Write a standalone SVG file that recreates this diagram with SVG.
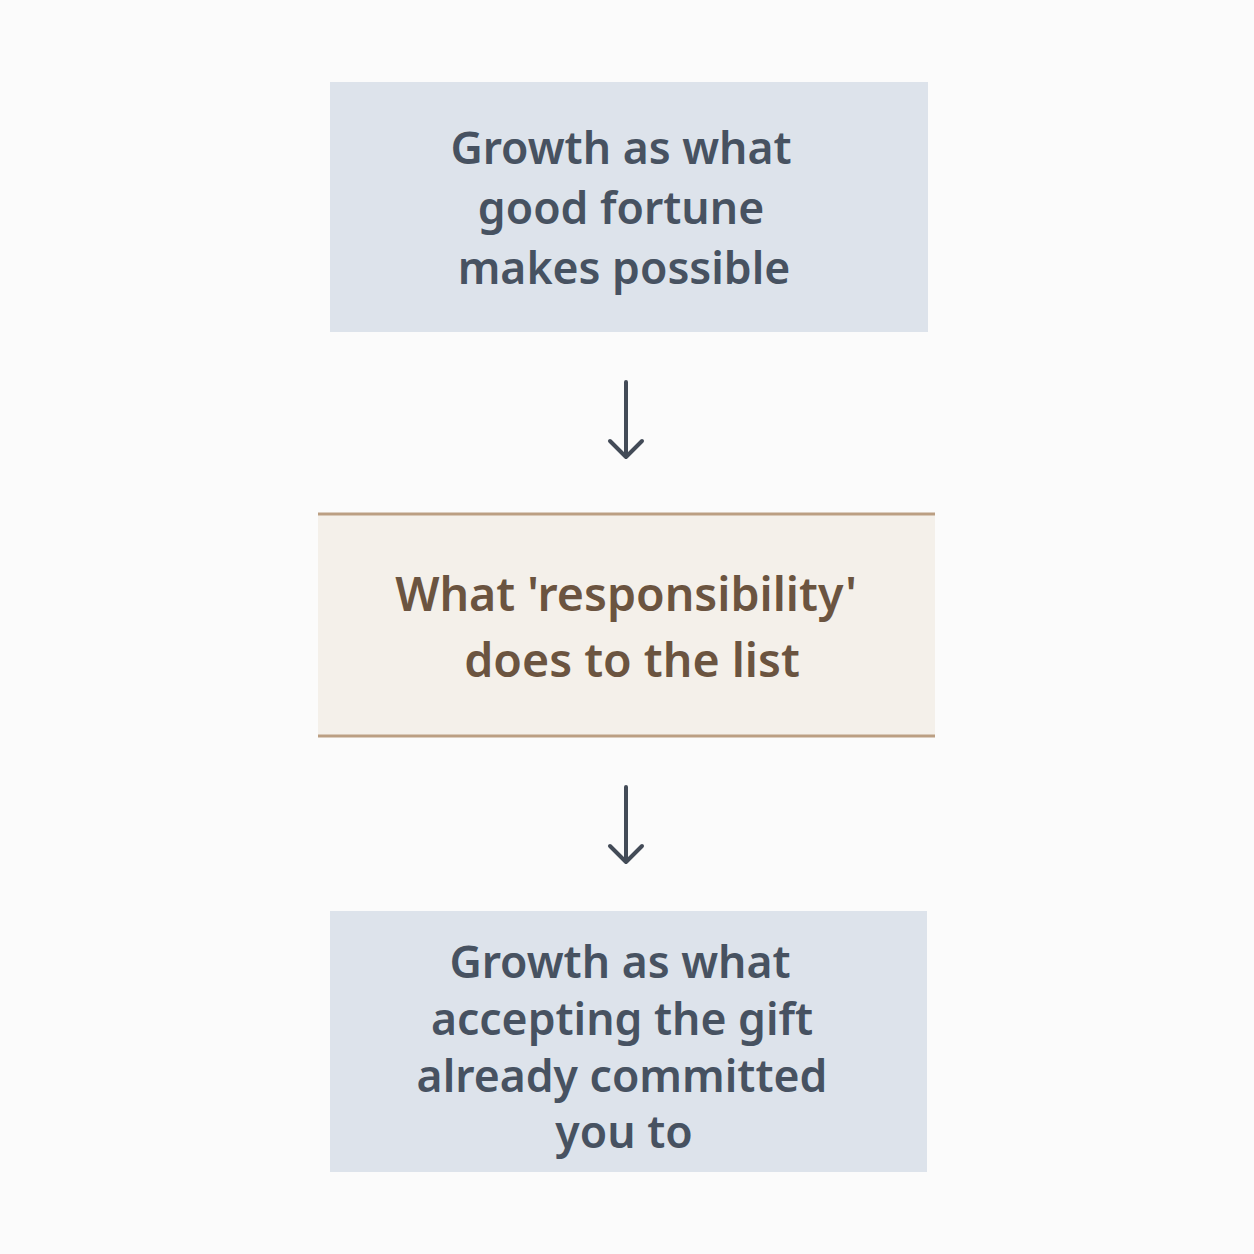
<svg xmlns="http://www.w3.org/2000/svg" width="1254" height="1254" viewBox="0 0 1254 1254">
<style>
.box{fill:#dde3eb}
.mid{fill:#f4f0ea}
.rule{stroke:#bb9f83;stroke-width:3}
.t{font-family:"Noto Sans","Open Sans",sans-serif;font-weight:600;text-anchor:middle}
.tb{fill:#475261;font-size:44.5px}
.tm{fill:#6b5440;font-size:46.5px}
.arr{stroke:#434b57;stroke-width:4;fill:none;stroke-linecap:round;stroke-linejoin:round}
</style>
<rect width="1254" height="1254" fill="#fbfbfb"/>
<g id="node1">
<rect class="box" x="330" y="82" width="598" height="250"/>
<text class="t tb" x="621" y="164">Growth as what</text>
<text class="t tb" x="621" y="224">good fortune</text>
<text class="t tb" x="624" y="284">makes possible</text>
</g>
<g id="node2">
<rect class="mid" x="318" y="514" width="617" height="222"/>
<line class="rule" x1="318" y1="514" x2="935" y2="514"/>
<line class="rule" x1="318" y1="736" x2="935" y2="736"/>
<text class="t tm" x="626" y="611">What 'responsibility'</text>
<text class="t tm" x="632" y="677">does to the list</text>
</g>
<g id="node3">
<rect class="box" x="330" y="911" width="597" height="261"/>
<text class="t tb" x="620" y="978">Growth as what</text>
<text class="t tb" x="622" y="1035">accepting the gift</text>
<text class="t tb" x="622" y="1092">already committed</text>
<text class="t tb" x="624" y="1148">you to</text>
</g>
<g id="connectors">
<path class="arr" d="M626 382V457M610 441L626 457L642 441"/>
<path class="arr" d="M626 787V862M610 846L626 862L642 846"/>
</g>
</svg>
